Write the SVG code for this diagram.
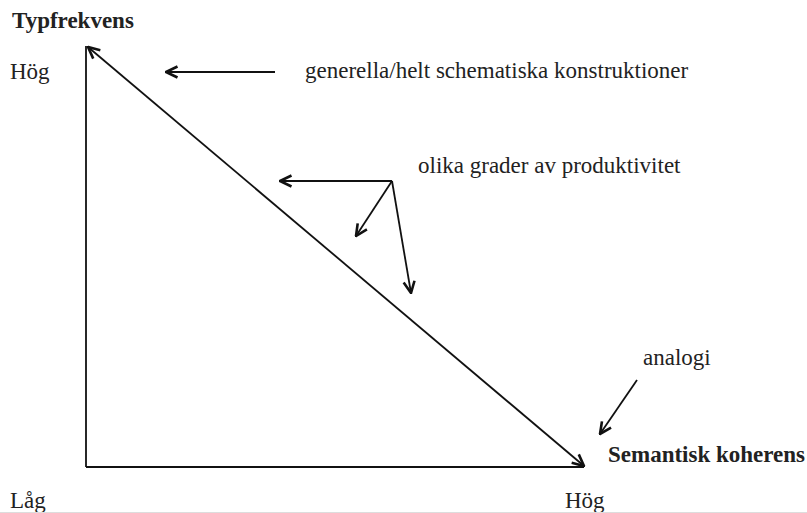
<svg xmlns="http://www.w3.org/2000/svg" width="807" height="513" viewBox="0 0 807 513">
<style>
text{font-family:"Liberation Serif","Times New Roman",serif;fill:#222;font-size:23px}
.b{font-weight:bold}
.ln{stroke:#111;stroke-width:1.8;fill:none}
</style>
<defs>
<marker id="ah" viewBox="0 0 14 14" refX="13" refY="7" markerWidth="14" markerHeight="14" markerUnits="userSpaceOnUse" orient="auto-start-reverse">
<polyline points="1.5,1.5 13,7 1.5,12.5" fill="none" stroke="#111" stroke-width="2.6"/>
</marker>
</defs>
<rect width="807" height="513" fill="#fff"/>
<g id="axes">
<line class="ln" x1="86" y1="46" x2="86" y2="467"/>
<line class="ln" x1="86" y1="467" x2="584" y2="467"/>
</g>
<g id="connectors">
<line class="ln" x1="88" y1="47" x2="584" y2="466" marker-start="url(#ah)" marker-end="url(#ah)"/>
<line class="ln" x1="275" y1="72" x2="166" y2="72" marker-end="url(#ah)"/>
<line class="ln" x1="392" y1="181" x2="280" y2="181" marker-end="url(#ah)"/>
<line class="ln" x1="392" y1="181" x2="356" y2="236" marker-end="url(#ah)"/>
<line class="ln" x1="392" y1="181" x2="411" y2="293" marker-end="url(#ah)"/>
<line class="ln" x1="637" y1="380" x2="600" y2="434" marker-end="url(#ah)"/>
</g>
<g id="labels">
<text class="b" x="12" y="28">Typfrekvens</text>
<text x="10" y="79">Hög</text>
<text x="305" y="78">generella/helt schematiska konstruktioner</text>
<text x="418" y="173">olika grader av produktivitet</text>
<text x="643" y="365">analogi</text>
<text class="b" x="608" y="462">Semantisk koherens</text>
<text x="10" y="508">Låg</text>
<text x="565" y="508">Hög</text>
</g>
<line x1="0" y1="512.5" x2="807" y2="512.5" stroke="#ddd" stroke-width="1"/>
</svg>
